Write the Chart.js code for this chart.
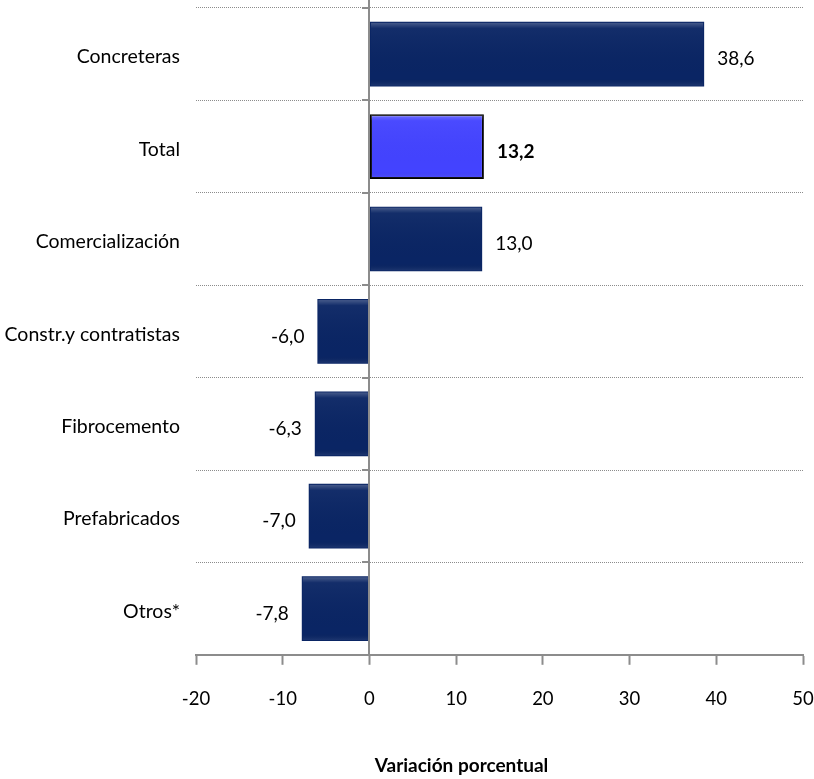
<!DOCTYPE html>
<html>
<head>
<meta charset="utf-8">
<script src="https://cdn.jsdelivr.net/npm/chart.js@4"></script>
<style>
  html, body { margin: 0; padding: 0; background: #fff; }
  #wrap { width: 814px; height: 779px; position: relative; }
</style>
</head>
<body>
<div id="wrap"><canvas id="variacion"></canvas></div>
<script>
// data
const categories = ['Concreteras', 'Total', 'Comercialización', 'Constr.y contratistas', 'Fibrocemento', 'Prefabricados', 'Otros*'];
const values = [38.6, 13.2, 13.0, -6.0, -6.3, -7.0, -7.8];
const valueLabels = ['38,6', '13,2', '13,0', '-6,0', '-6,3', '-7,0', '-7,8'];
const xTicks = [-20, -10, 0, 10, 20, 30, 40, 50];
const highlightCategory = 'Total';
const axisTitle = 'Variación porcentual';

const FONT = 'Lato, sans-serif';
const NAVY = '#0a2564';
const BRIGHT = '#4343ff';
const AXIS_GREY = '#8c8c8c';

// zero line, its small tick marks, bevel shading, value labels and axis title
const decorations = {
  id: 'decorations',
  afterDatasetsDraw(chart) {
    const { ctx, chartArea, scales } = chart;
    const x0 = Math.round(scales.x.getPixelForValue(0));
    const meta = chart.getDatasetMeta(0);

    // bevel look on each bar
    meta.data.forEach((bar) => {
      const { x, y, base, height } = bar.getProps(['x', 'y', 'base', 'height'], true);
      const left = Math.min(x, base), w = Math.abs(x - base);
      const top = y - height / 2;
      const g = ctx.createLinearGradient(0, top, 0, top + height);
      g.addColorStop(0, 'rgba(255,255,255,0.28)');
      g.addColorStop(0.1, 'rgba(255,255,255,0.04)');
      g.addColorStop(0.88, 'rgba(0,0,0,0)');
      g.addColorStop(1, 'rgba(255,255,255,0.10)');
      ctx.save();
      ctx.fillStyle = g;
      ctx.fillRect(left + 1, top + 1, w - 2, height - 2);
      ctx.restore();
    });

    // vertical axis at zero
    ctx.save();
    ctx.strokeStyle = AXIS_GREY;
    ctx.lineWidth = 2;
    ctx.beginPath();
    ctx.moveTo(x0, chartArea.top - 8);
    ctx.lineTo(x0, chartArea.bottom);
    ctx.stroke();
    // small ticks between categories
    const step = (chartArea.bottom - chartArea.top) / categories.length;
    for (let i = 0; i <= categories.length; i++) {
      const yy = Math.round(chartArea.top + i * step);
      ctx.beginPath();
      ctx.moveTo(x0 - 7, yy);
      ctx.lineTo(x0, yy);
      ctx.stroke();
    }
    ctx.restore();

    // value labels
    ctx.save();
    ctx.textBaseline = 'middle';
    ctx.fillStyle = '#000';
    meta.data.forEach((bar, i) => {
      const bold = categories[i] === highlightCategory;
      ctx.font = (bold ? 'bold ' : '') + '19px ' + FONT;
      if (values[i] >= 0) {
        ctx.textAlign = 'left';
        ctx.fillText(valueLabels[i], bar.x + 13, bar.y + 5);
      } else {
        ctx.textAlign = 'right';
        ctx.fillText(valueLabels[i], bar.x - 13, bar.y + 5);
      }
    });

    // axis title (sits left of the plot centre in the reference)
    ctx.font = 'bold 19px ' + FONT;
    ctx.textAlign = 'center';
    ctx.fillText(axisTitle, chart.width * 0.567, chart.height - 13);
    ctx.restore();
  }
};

new Chart(document.getElementById('variacion'), {
  type: 'bar',
  data: {
    labels: categories,
    datasets: [{
      data: values,
      backgroundColor: categories.map(c => c === highlightCategory ? BRIGHT : NAVY),
      borderColor: categories.map(c => c === highlightCategory ? '#000' : NAVY),
      borderWidth: categories.map(c => c === highlightCategory ? 2 : 0),
      borderSkipped: false,
      categoryPercentage: 1,
      barPercentage: 0.7
    }]
  },
  plugins: [decorations],
  options: {
    indexAxis: 'y',
    responsive: true,
    maintainAspectRatio: false,
    animation: false,
    layout: { padding: { top: 8, right: 11, left: 0, bottom: 46 } },
    plugins: {
      legend: { display: false },
      tooltip: { enabled: false }
    },
    scales: {
      x: {
        min: -20,
        max: 50,
        afterBuildTicks: (scale) => { scale.ticks = xTicks.map(v => ({ value: v })); },
        afterFit: (scale) => { scale.paddingLeft = 0; scale.paddingRight = 0; },
        grid: {
          drawOnChartArea: false,
          drawTicks: true,
          tickLength: 10,
          tickColor: AXIS_GREY,
          tickWidth: 2
        },
        border: { display: true, color: AXIS_GREY, width: 2 },
        ticks: {
          color: '#000',
          padding: 23,
          maxRotation: 0,
          font: { family: FONT, size: 18.5 }
        }
      },
      y: {
        afterFit: (scale) => { scale.width = 196; scale.paddingTop = 0; scale.paddingBottom = 0; },
        grid: {
          offset: true,
          drawTicks: false,
          color: '#8c8c8c',
          lineWidth: 1,
          borderDash: [1, 1]
        },
        border: { display: false, dash: [1, 1] },
        ticks: {
          color: '#000',
          padding: 16,
          labelOffset: 3,
          font: { family: FONT, size: 19.5 }
        }
      }
    }
  }
});
</script>
</body>
</html>
